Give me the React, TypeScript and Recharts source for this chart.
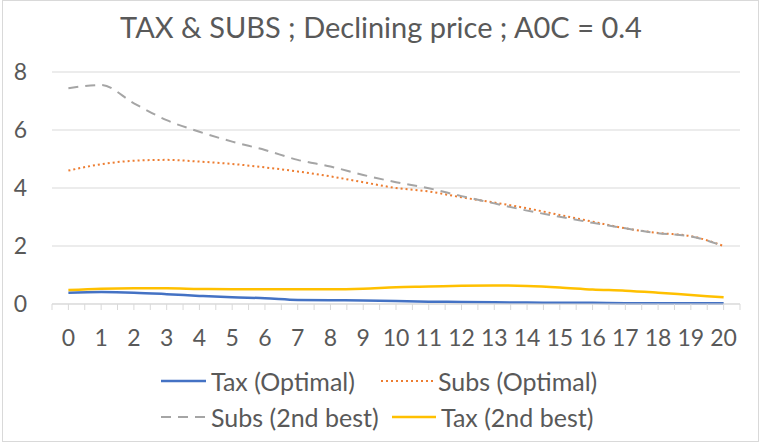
import { LineChart, Line, XAxis, YAxis, CartesianGrid, Legend } from 'recharts'

const periods = ['0', '1', '2', '3', '4', '5', '6', '7', '8', '9', '10', '11', '12', '13', '14', '15', '16', '17', '18', '19', '20']
const taxOptimal = [0.39, 0.41, 0.39, 0.34, 0.28, 0.23, 0.2, 0.14, 0.13, 0.12, 0.1, 0.08, 0.07, 0.06, 0.05, 0.04, 0.04, 0.03, 0.03, 0.03, 0.03]
const subsOptimal = [4.6, 4.82, 4.94, 4.97, 4.91, 4.83, 4.71, 4.57, 4.4, 4.2, 4.0, 3.88, 3.68, 3.5, 3.3, 3.07, 2.84, 2.61, 2.45, 2.34, 2.0]
const subsSecondBest = [7.44, 7.55, 6.92, 6.34, 5.94, 5.6, 5.31, 4.97, 4.74, 4.45, 4.2, 3.99, 3.72, 3.47, 3.22, 3.01, 2.8, 2.61, 2.44, 2.33, 2.0]
const taxSecondBest = [0.48, 0.53, 0.54, 0.54, 0.52, 0.51, 0.51, 0.51, 0.51, 0.53, 0.58, 0.6, 0.63, 0.64, 0.62, 0.57, 0.5, 0.46, 0.39, 0.31, 0.23]
const yTicks = [0, 2, 4, 6, 8]

const data = periods.map((p, i) => ({
  period: p,
  taxOpt: taxOptimal[i],
  subsOpt: subsOptimal[i],
  subs2nd: subsSecondBest[i],
  tax2nd: taxSecondBest[i],
}))

const FONT = 'Lato, "Open Sans", sans-serif'
const TEXT = '#595959'
const GRID = '#d9d9d9'

const W = 769
const H = 446
const PLOT_LEFT = 52
const PLOT_RIGHT = 740
const BAND = (PLOT_RIGHT - PLOT_LEFT) / periods.length

// legend slots: swatch left edge, swatch width, row
const series = [
  { key: 'taxOpt', name: 'Tax (Optimal)', color: '#4472C4', dash: undefined, width: 2.5, lx: 161, lw: 45, row: 0 },
  { key: 'subsOpt', name: 'Subs (Optimal)', color: '#ED7D31', dash: '2 3', width: 2, lx: 381, lw: 52, row: 0 },
  { key: 'subs2nd', name: 'Subs (2nd best)', color: '#A5A5A5', dash: '10 7', width: 2, lx: 161, lw: 45, row: 1 },
  { key: 'tax2nd', name: 'Tax (2nd best)', color: '#FFC000', dash: undefined, width: 2.5, lx: 392, lw: 44, row: 1 },
]

function XTick(props: any) {
  const { x, y, payload, index } = props
  const last = index === periods.length - 1
  return (
    <g>
      <line x1={x - BAND / 2} x2={x - BAND / 2} y1={y} y2={y + 6} stroke={GRID} />
      <line x1={x} x2={x} y1={y} y2={y + 6} stroke={GRID} />
      {last && <line x1={x + BAND / 2} x2={x + BAND / 2} y1={y} y2={y + 6} stroke={GRID} />}
      <text x={x} y={y + 42} textAnchor="middle" fill={TEXT} fontSize={23} fontFamily={FONT}>
        {payload.value}
      </text>
    </g>
  )
}

function ChartLegend() {
  return (
    <div style={{ position: 'relative', width: W, height: 72, fontFamily: FONT, fontSize: 25, color: TEXT }}>
      {series.map(s => (
        <div
          key={s.key}
          style={{
            position: 'absolute', left: s.lx, top: s.row * 36, height: 36,
            display: 'flex', alignItems: 'center', whiteSpace: 'nowrap',
          }}
        >
          <svg width={s.lw} height={10} style={{ marginRight: 5 }}>
            <line x1={0} x2={s.lw} y1={5} y2={5} stroke={s.color} strokeWidth={s.width} strokeDasharray={s.dash} />
          </svg>
          <span>{s.name}</span>
        </div>
      ))}
    </div>
  )
}

export default function App() {
  return (
    <div style={{ position: 'absolute', left: 0, top: 0, width: W, height: H, background: '#fff' }}>
      <div
        style={{
          position: 'absolute', left: 2, top: 0, width: 757, height: 442,
          border: `1px solid ${GRID}`, boxSizing: 'border-box',
        }}
      />
      <div
        style={{
          position: 'absolute', left: 0, top: 9, width: 762, textAlign: 'center',
          fontFamily: FONT, fontSize: 29, color: TEXT, lineHeight: '36px',
        }}
      >
        TAX &amp; SUBS ; Declining price ; A0C = 0.4
      </div>
      <LineChart width={W} height={H} data={data} margin={{ top: 72, right: W - PLOT_RIGHT, left: 0, bottom: 20 }}>
        <CartesianGrid vertical={false} stroke={GRID} />
        <XAxis
          dataKey="period"
          height={50}
          padding={{ left: BAND / 2, right: BAND / 2 }}
          axisLine={{ stroke: GRID }}
          tickLine={false}
          tickSize={0}
          tickMargin={0}
          interval={0}
          tick={<XTick />}
        />
        <YAxis
          width={PLOT_LEFT}
          domain={[0, 8]}
          ticks={yTicks}
          axisLine={false}
          tickLine={false}
          tickSize={0}
          tickMargin={25}
          tick={{ fill: TEXT, fontSize: 23, fontFamily: FONT }}
        />
        <Legend verticalAlign="bottom" wrapperStyle={{ left: 0, top: 363 }} content={() => <ChartLegend />} />
        {series.map(s => (
          <Line
            key={s.key}
            type="monotone"
            dataKey={s.key}
            name={s.name}
            stroke={s.color}
            strokeWidth={s.width}
            strokeDasharray={s.dash}
            dot={false}
            isAnimationActive={false}
          />
        ))}
      </LineChart>
    </div>
  )
}
